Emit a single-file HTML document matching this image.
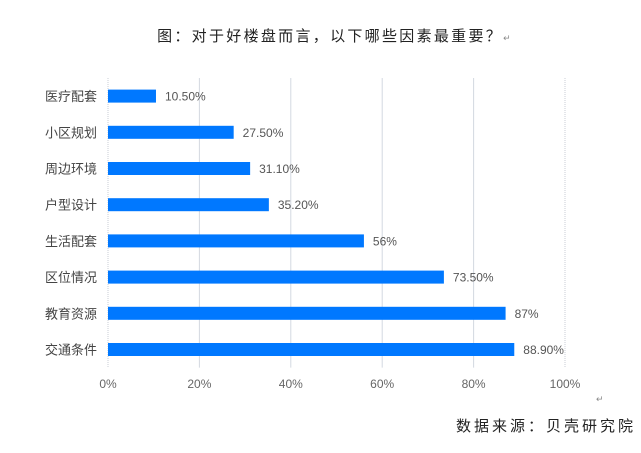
<!DOCTYPE html>
<html><head><meta charset="utf-8"><style>
body{margin:0;background:#fff;width:641px;height:448px;overflow:hidden;font-family:"Liberation Sans","Noto Sans CJK SC",sans-serif;}
</style></head><body>
<svg width="641" height="448" id="c">
<text x="335" y="41" text-anchor="middle" font-size="15" fill="#222" style="letter-spacing:2.3px">图：对于好楼盘而言，以下哪些因素最重要？<tspan font-size="9" fill="#888">↵</tspan></text>
<text x="636" y="431" text-anchor="end" font-size="15" fill="#222" style="letter-spacing:3px">数据来源：贝壳研究院</text>
<text x="596" y="402" font-size="9" fill="#888">↵</text>
</svg>
<script>
const categories=["医疗配套","小区规划","周边环境","户型设计","生活配套","区位情况","教育资源","交通条件"];
const values=[10.5,27.5,31.1,35.2,56,73.5,87,88.9];
const valueLabels=["10.50%","27.50%","31.10%","35.20%","56%","73.50%","87%","88.90%"];
const ticks=[0,20,40,60,80,100];
const svg=document.getElementById('c');const NS='http://www.w3.org/2000/svg';
const x=v=>108+v*4.57;
const y0=78,band=36.2;
const yc=i=>y0+band*(i+0.5);
function mk(t,a){const e=document.createElementNS(NS,t);for(const k in a)e.setAttribute(k,a[k]);svg.appendChild(e);return e;}
ticks.forEach((t,i)=>{
 const l=mk('line',{x1:x(t),x2:x(t),y1:y0,y2:y0+band*8,stroke:(t==0||t==100)?'#c8cdd6':'#d3d8e0','stroke-width':1,'stroke-dasharray':(t==0||t==100)?'1,1':'none'});
 
 
 const tx=mk('text',{x:x(t),y:388,'text-anchor':'middle','font-size':12,fill:'#666'});tx.textContent=t+'%';
 
 
});
categories.forEach((c,i)=>{
 const cy=yc(i);
 const lb=mk('text',{x:97,y:cy+5,'text-anchor':'end','font-size':13,fill:'#444'});lb.textContent=c;
 
 
 const r=mk('rect',{x:x(0),y:cy-6.5,width:x(values[i])-x(0),height:13,fill:'#0078ff'});
 
 
 const v=mk('text',{x:x(values[i])+9,y:cy+4.5,'font-size':12,fill:'#555'});v.textContent=valueLabels[i];
 
 
});
</script>
</body></html>
